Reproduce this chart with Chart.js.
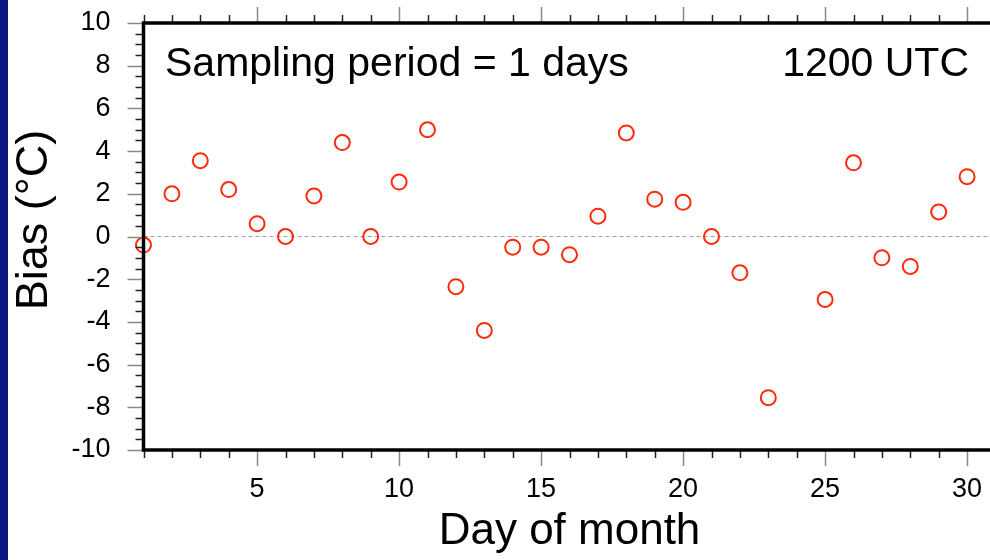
<!DOCTYPE html>
<html>
<head>
<meta charset="utf-8">
<script src="https://cdn.jsdelivr.net/npm/chart.js@4.4.1/dist/chart.umd.min.js"></script>
<style>
  html, body { margin: 0; padding: 0; background: #fff; overflow: hidden; }
  #wrap { position: relative; width: 990px; height: 560px; overflow: hidden; }
  #box { position: absolute; left: 0; top: 0; width: 1005px; height: 560px; }
  #strip { position: absolute; left: 0; top: 0; width: 8px; height: 560px; background: #0b1782; }
</style>
</head>
<body>
<div id="wrap">
  <div id="box"><canvas id="myChart"></canvas></div>
  <div id="strip"></div>
</div>
<script>
// day of month and bias values (day 24 is missing)
const days = [1, 2, 3, 4, 5, 6, 7, 8, 9, 10, 11, 12, 13, 14, 15, 16, 17, 18, 19, 20, 21, 22, 23, 25, 26, 27, 28, 29, 30];
const bias = [-0.4, 2.0, 3.55, 2.2, 0.6, 0.0, 1.9, 4.4, 0.0, 2.55, 5.0, -2.35, -4.4, -0.5, -0.5, -0.85, 0.95, 4.85, 1.75, 1.6, 0.0, -1.7, -7.55, -2.95, 3.45, -1.0, -1.4, 1.15, 2.8];
const xTickLabels = [5, 10, 15, 20, 25, 30];
const yTickLabels = [-10, -8, -6, -4, -2, 0, 2, 4, 6, 8, 10];

const FONT = '"Liberation Sans", Arial, sans-serif';

// frame, outward ticks (major + minor), zero line, y title and the two captions
const framePlugin = {
  id: 'frame',
  beforeDatasetsDraw(chart) {
    const ctx = chart.ctx, a = chart.chartArea;
    const y0 = chart.scales.y.getPixelForValue(0);
    ctx.save();
    ctx.strokeStyle = '#a0a0a0';
    ctx.lineWidth = 1;
    ctx.setLineDash([4, 3]);
    ctx.beginPath();
    ctx.moveTo(a.left, y0);
    ctx.lineTo(a.right, y0);
    ctx.stroke();
    ctx.restore();
  },
  afterDatasetsDraw(chart) {
    const ctx = chart.ctx, a = chart.chartArea;
    const xs = chart.scales.x, ys = chart.scales.y;
    ctx.save();
    ctx.lineWidth = 1.5;
    // x ticks, bottom and top
    for (let d = 1; d <= 31; d++) {
      const px = Math.round(xs.getPixelForValue(d)) + 0.5;
      const major = d % 5 === 0;
      const len = major ? 16 : 8;
      ctx.strokeStyle = major ? '#8a8a8a' : '#222';
      ctx.beginPath();
      ctx.moveTo(px, a.bottom); ctx.lineTo(px, a.bottom + len);
      ctx.moveTo(px, a.top); ctx.lineTo(px, a.top - len);
      ctx.stroke();
    }
    // y ticks, left
    for (let v = -10; v <= 10; v += 0.5) {
      const py = Math.round(ys.getPixelForValue(v)) + 0.5;
      const major = v % 2 === 0;
      const len = major ? 16 : 8;
      ctx.strokeStyle = major ? '#8a8a8a' : '#222';
      ctx.beginPath();
      ctx.moveTo(a.left, py); ctx.lineTo(a.left - len, py);
      ctx.stroke();
    }
    // frame
    ctx.strokeStyle = '#000';
    ctx.lineWidth = 3.5;
    ctx.strokeRect(a.left, a.top, a.right - a.left, a.bottom - a.top);
    // captions
    ctx.fillStyle = '#000';
    ctx.font = '41px ' + FONT;
    ctx.textBaseline = 'alphabetic';
    ctx.textAlign = 'left';
    ctx.fillText('Sampling period = 1 days', 165, 76);
    ctx.textAlign = 'right';
    ctx.fillText('1200 UTC', 969, 76);
    // y axis title
    ctx.translate(35, 220);
    ctx.rotate(-Math.PI / 2);
    ctx.font = '45px ' + FONT;
    ctx.textAlign = 'center';
    ctx.textBaseline = 'middle';
    ctx.fillText('Bias (°C)', 0, 0);
    ctx.restore();
  }
};

const config = {
  type: 'scatter',
  data: {
    datasets: [{
      label: 'Bias',
      data: days.map((d, i) => ({ x: d, y: bias[i] })),
      pointStyle: 'circle',
      pointRadius: 7.5,
      pointBorderWidth: 2,
      pointBorderColor: '#ff2a0a',
      pointBackgroundColor: 'rgba(255,255,255,0)',
      clip: false
    }]
  },
  options: {
    responsive: true,
    maintainAspectRatio: false,
    animation: false,
    layout: { padding: { top: 23, right: 4.6, left: 0, bottom: 0 } },
    plugins: { legend: { display: false }, tooltip: { enabled: false } },
    scales: {
      x: {
        type: 'linear',
        min: 1,
        max: 31,
        afterBuildTicks: (s) => { s.ticks = xTickLabels.map(v => ({ value: v })); },
        afterFit: (s) => { s.height = 110; s.paddingLeft = 0; s.paddingRight = 0; },
        grid: { display: false, drawTicks: false },
        border: { display: false },
        ticks: { padding: 23, color: '#000', font: { family: FONT, size: 27 } },
        title: {
          display: true,
          text: 'Day of month',
          color: '#000',
          font: { family: FONT, size: 44 },
          padding: { top: 0, bottom: 2 }
        }
      },
      y: {
        type: 'linear',
        min: -10,
        max: 10,
        afterBuildTicks: (s) => { s.ticks = yTickLabels.map(v => ({ value: v })); },
        afterFit: (s) => { s.width = 143.5; s.paddingTop = 0; s.paddingBottom = 0; },
        grid: { display: false, drawTicks: false },
        border: { display: false },
        ticks: { padding: 33, color: '#000', font: { family: FONT, size: 27 } }
      }
    }
  },
  plugins: [framePlugin]
};

const ctx = document.getElementById('myChart').getContext('2d');
const myChart = new Chart(ctx, config);
</script>
</body>
</html>
